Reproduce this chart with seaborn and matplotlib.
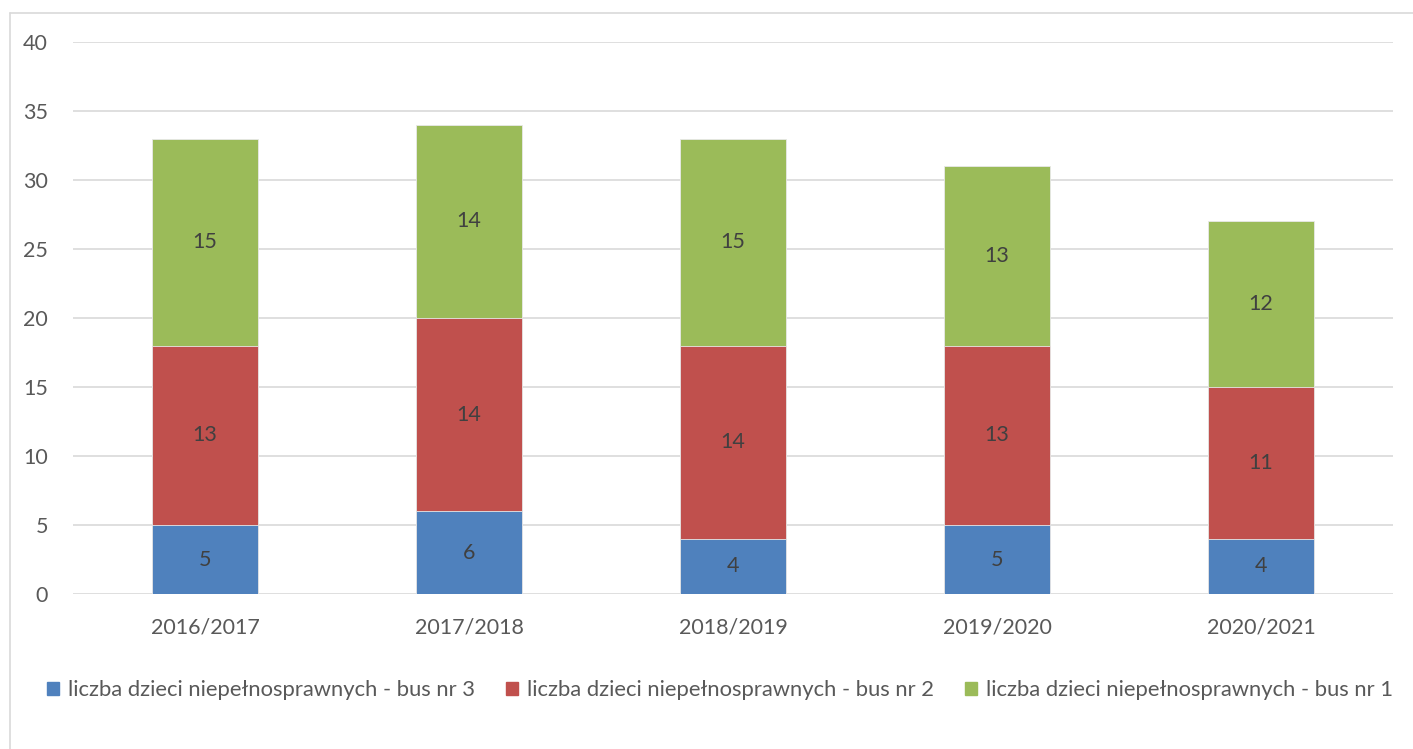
import matplotlib
matplotlib.use('Agg')
import matplotlib.pyplot as plt
import matplotlib.lines as mlines
import matplotlib.patches as mpatches
import numpy as np
import pandas as pd
import seaborn as sns

years = ['2016/2017', '2017/2018', '2018/2019', '2019/2020', '2020/2021']
bus3 = [5, 6, 4, 5, 4]
bus2 = [13, 14, 14, 13, 11]
bus1 = [15, 14, 15, 13, 12]
series_names = ['liczba dzieci niepełnosprawnych - bus nr 3',
                'liczba dzieci niepełnosprawnych - bus nr 2',
                'liczba dzieci niepełnosprawnych - bus nr 1']
colors = ['#4F81BD', '#C0504D', '#9BBB59']
yticks = [0, 5, 10, 15, 20, 25, 30, 35, 40]

FS = 15.5


def main():
    sns.set_style('white')
    plt.rcParams['font.family'] = ['Lato', 'DejaVu Sans']

    fig = plt.figure(figsize=(14.13, 7.49), dpi=100)
    ax = fig.add_axes([73 / 1413, 1 - 594 / 749, 1320 / 1413, 552 / 749])

    layers = [bus3, bus2, bus1]
    cum = np.cumsum(np.array(layers), axis=0)
    # draw tallest stack first, then overlay the lower segments
    for i in range(len(layers) - 1, -1, -1):
        df = pd.DataFrame({'year': years, 'value': cum[i]})
        sns.barplot(data=df, x='year', y='value', color=colors[i], width=0.4,
                    saturation=1, ax=ax, zorder=3, edgecolor='#E8E8E8', linewidth=0.6)

    for i, layer in enumerate(layers):
        base = cum[i] - np.array(layer)
        for x, (b, v) in enumerate(zip(base, layer)):
            ax.text(x, b + v / 2, str(v), ha='center', va='center',
                    fontsize=FS, color='#404040', zorder=5)

    ax.set_ylim(0, 40)
    ax.set_xlim(-0.5, 4.5)
    ax.set_yticks(yticks)
    ax.yaxis.grid(True, color='#D9D9D9', lw=1.2)
    ax.set_axisbelow(True)
    for s in ax.spines.values():
        s.set_visible(False)
    ax.tick_params(axis='both', length=0, labelsize=FS, labelcolor='#595959')
    ax.tick_params(axis='y', pad=18)
    ax.tick_params(axis='x', pad=17)
    ax.set_xlabel('')
    ax.set_ylabel('')

    handles = [mpatches.Patch(color=c, label=n) for c, n in zip(colors, series_names)]
    fig.legend(handles=handles, loc='center', bbox_to_anchor=(720 / 1413, 1 - 690 / 749),
               ncol=3, frameon=False, fontsize=15.8, labelcolor='#595959',
               handlelength=0.55, handleheight=0.55, handletextpad=0.37,
               columnspacing=1.45)

    # chart-area border (top and left visible)
    fig.add_artist(mlines.Line2D([9.5 / 1413, 1], [1 - 13 / 749, 1 - 13 / 749],
                                 color='#D9D9D9', lw=1.2))
    fig.add_artist(mlines.Line2D([9.5 / 1413, 9.5 / 1413], [0, 1 - 13 / 749],
                                 color='#D9D9D9', lw=1.2))

    fig.savefig('out.png', dpi=100)


if __name__ == '__main__':
    main()
